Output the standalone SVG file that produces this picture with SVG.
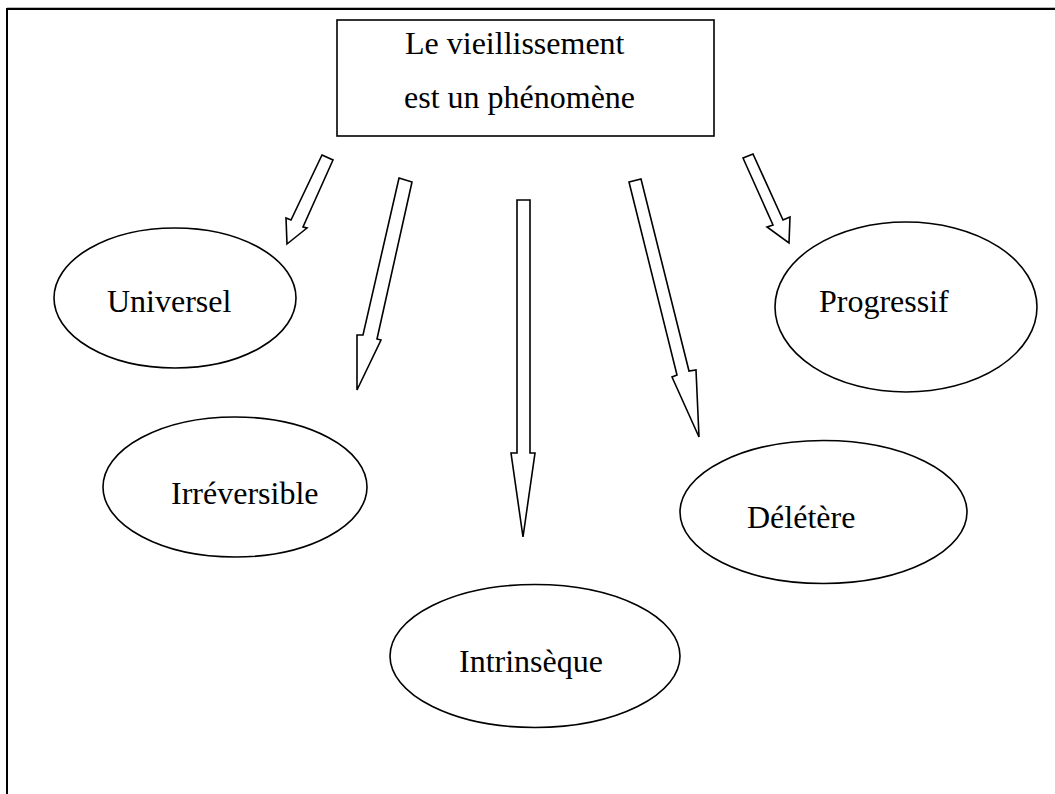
<svg xmlns="http://www.w3.org/2000/svg" width="1055" height="794" viewBox="0 0 1055 794">
<style>
.shape{fill:#fff;stroke:#000;stroke-width:1.6}
.arrow{fill:#fff;stroke:#000;stroke-width:1.6;stroke-linejoin:miter}
.lbl{font-family:"Liberation Serif","Times New Roman",serif;font-size:32px;fill:#000}
</style>
<rect width="1055" height="794" fill="#fff"/>
<g id="frame">
<line x1="7" y1="7.5" x2="1055" y2="7.5" stroke="#bbb" stroke-width="1"/>
<line x1="6" y1="9" x2="1055" y2="9" stroke="#000" stroke-width="2"/>
<line x1="7" y1="8" x2="7" y2="794" stroke="#000" stroke-width="2"/>
</g>
<g id="node-top">
<rect class="shape" x="337" y="20" width="377" height="116" stroke-width="2"/>
<text class="lbl" x="405" y="54">Le vieillissement</text>
<text class="lbl" x="404" y="108">est un phénomène</text>
</g>
<g id="node-universel">
<ellipse class="shape" cx="175" cy="298" rx="121" ry="70"/>
<text class="lbl" x="107" y="312">Universel</text>
</g>
<g id="node-irreversible">
<ellipse class="shape" cx="235" cy="487" rx="132" ry="70"/>
<text class="lbl" x="171" y="504">Irréversible</text>
</g>
<g id="node-intrinseque">
<ellipse class="shape" cx="535" cy="656" rx="145" ry="71.5"/>
<text class="lbl" x="459" y="672">Intrinsèque</text>
</g>
<g id="node-deletere">
<ellipse class="shape" cx="823.5" cy="512" rx="143.5" ry="71.5"/>
<text class="lbl" x="747" y="528">Délétère</text>
</g>
<g id="node-progressif">
<ellipse class="shape" cx="906" cy="307" rx="131" ry="85"/>
<text class="lbl" x="819" y="312">Progressif</text>
</g>
<g id="connectors">
<polygon class="arrow" points="322,155 333,160 303,227 307,228 287,244 286,218 291,220"/>
<polygon class="arrow" points="399,178 412,182 377,339 381,340 357,390 357,335 363,335"/>
<polygon class="arrow" points="517,200 530,200 530,453 535,453 523,537 511,453 517,453"/>
<polygon class="arrow" points="629,182 641,179 689,371 696,370 699,437 672,377 677,375"/>
<polygon class="arrow" points="743,158 753,154 783,220 790,217 789,243 767,227 773,225"/>
</g>
</svg>
